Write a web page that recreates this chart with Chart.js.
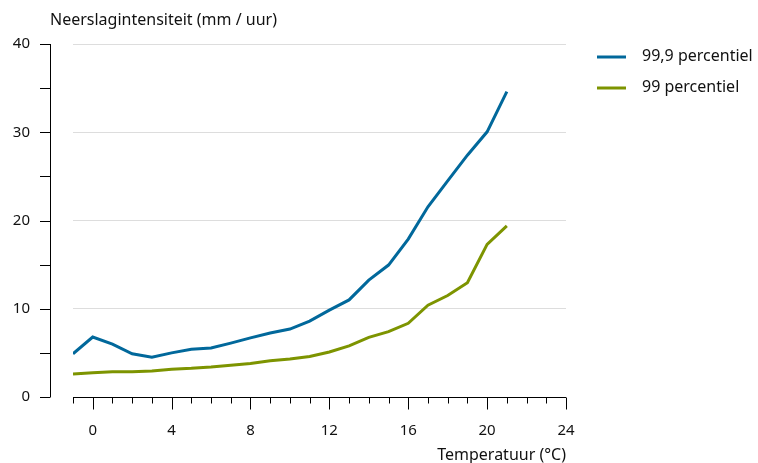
<!DOCTYPE html>
<html>
<head>
<meta charset="utf-8">
<script src="https://cdn.jsdelivr.net/npm/chart.js@4.4.1/dist/chart.umd.min.js"></script>
<style>
  html, body { margin: 0; padding: 0; background: #fff; }
</style>
</head>
<body>
<canvas id="myChart" width="758" height="463"></canvas>
<script>
const temperatures = [-1, 0, 1, 2, 3, 4, 5, 6, 7, 8, 9, 10, 11, 12, 13, 14, 15, 16, 17, 18, 19, 20, 21];
const p999 = [4.9, 6.8, 6.0, 4.9, 4.5, 5.0, 5.4, 5.55, 6.1, 6.7, 7.25, 7.7, 8.6, 9.85, 11.0, 13.25, 14.95, 17.9, 21.55, 24.5, 27.4, 30.05, 34.6];
const p99 = [2.6, 2.75, 2.85, 2.85, 2.95, 3.15, 3.25, 3.4, 3.6, 3.8, 4.1, 4.3, 4.6, 5.1, 5.8, 6.75, 7.4, 8.35, 10.4, 11.5, 12.95, 17.3, 19.4];
const seriesLabels = ['99,9 percentiel', '99 percentiel'];
const xTickLabels = [0, 4, 8, 12, 16, 20, 24];
const yTickLabels = [0, 10, 20, 30, 40];

const BLUE = '#01689b';
const GREEN = '#7d9400';
const FONT = '"Noto Sans", "Open Sans", sans-serif';

const toPoints = (vals) => vals.map((v, i) => ({ x: temperatures[i], y: v }));

// axis lines, tick marks, titles and legend
const decorations = {
  id: 'decorations',
  afterDraw(chart) {
    const { ctx, scales: { x, y }, chartArea } = chart;
    ctx.save();
    ctx.strokeStyle = '#000';
    ctx.lineWidth = 1;

    // y axis, set apart from the plot
    const ax = 50.5;
    ctx.beginPath();
    ctx.moveTo(ax, y.getPixelForValue(0));
    ctx.lineTo(ax, y.getPixelForValue(40));
    for (let v = 0; v <= 40; v += 5) {
      const py = Math.round(y.getPixelForValue(v)) + 0.5;
      ctx.moveTo(40, py);
      ctx.lineTo(ax, py);
    }
    ctx.stroke();

    // x axis
    const by = Math.round(y.getPixelForValue(0)) + 0.5;
    ctx.beginPath();
    ctx.moveTo(x.getPixelForValue(-1), by);
    ctx.lineTo(x.getPixelForValue(24), by);
    for (let t = -1; t <= 24; t++) {
      const px = Math.round(x.getPixelForValue(t)) + 0.5;
      ctx.moveTo(px, by);
      ctx.lineTo(px, by + (t % 4 === 0 ? 12 : 6));
    }
    ctx.stroke();

    ctx.fillStyle = '#111';
    ctx.font = '16px ' + FONT;
    ctx.textBaseline = 'middle';
    ctx.textAlign = 'left';
    ctx.fillText('Neerslagintensiteit (mm / uur)', 50, 20);
    ctx.textAlign = 'right';
    ctx.fillText('Temperatuur (°C)', chartArea.right, 455);

    // legend
    ctx.textAlign = 'left';
    chart.data.datasets.forEach((ds, i) => {
      const ly = 57 + i * 31;
      ctx.strokeStyle = ds.borderColor;
      ctx.lineWidth = 3;
      ctx.beginPath();
      ctx.moveTo(597, ly);
      ctx.lineTo(626, ly);
      ctx.stroke();
      ctx.fillText(ds.label, 642, ly - 1);
    });
    ctx.restore();
  },
};

new Chart(document.getElementById('myChart'), {
  type: 'line',
  data: {
    datasets: [
      { label: seriesLabels[0], data: toPoints(p999), borderColor: BLUE, borderWidth: 3, pointRadius: 0, tension: 0 },
      { label: seriesLabels[1], data: toPoints(p99), borderColor: GREEN, borderWidth: 3, pointRadius: 0, tension: 0 },
    ],
  },
  options: {
    responsive: false,
    animation: false,
    layout: { padding: { top: 44, right: 192, bottom: 0, left: 0 } },
    plugins: { legend: { display: false }, tooltip: { enabled: false } },
    scales: {
      x: {
        type: 'linear',
        min: -1,
        max: 24,
        afterFit: (s) => { s.height = 66; s.paddingLeft = 0; s.paddingRight = 0; },
        afterBuildTicks: (s) => { s.ticks = xTickLabels.map((v) => ({ value: v })); },
        grid: { display: false },
        border: { display: false },
        ticks: { color: '#111', padding: 17, maxRotation: 0, autoSkip: false, font: { family: FONT, size: 15 } },
      },
      y: {
        min: 0,
        max: 40,
        afterFit: (s) => { s.width = 73; s.paddingTop = 0; s.paddingBottom = 0; },
        afterBuildTicks: (s) => { s.ticks = yTickLabels.map((v) => ({ value: v })); },
        grid: { drawTicks: false, color: (c) => (c.tick && c.tick.value === 0 ? 'rgba(0,0,0,0)' : '#dddddd') },
        border: { display: false },
        ticks: { color: '#111', padding: 43, font: { family: FONT, size: 15 } },
      },
    },
  },
  plugins: [decorations],
});
</script>
</body>
</html>
